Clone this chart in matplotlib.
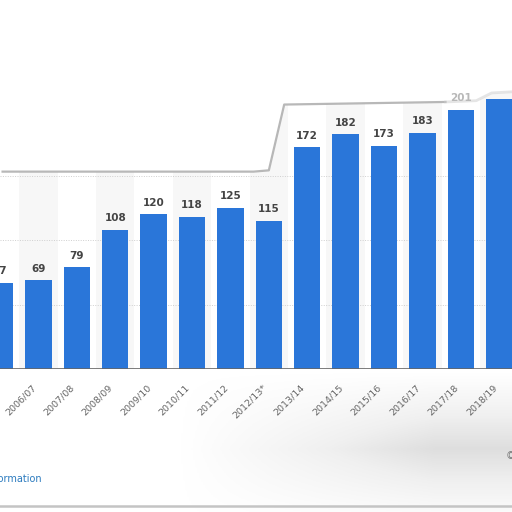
import numpy as np
import matplotlib
matplotlib.use("Agg")
import matplotlib.pyplot as plt
import matplotlib.transforms as mtransforms

seasons = ['2005/06', '2006/07', '2007/08', '2008/09', '2009/10', '2010/11', '2011/12',
           '2012/13*', '2013/14', '2014/15', '2015/16', '2016/17', '2017/18', '2018/19']
values = [67, 69, 79, 108, 120, 118, 125, 115, 172, 182, 173, 183, 201, 209]
# 201 is half hidden under the smudge, 2018/19 label is cut off
shown_labels = [True] * 12 + [False, False]

fig = plt.figure(figsize=(5.12, 5.12), dpi=100)
fig.patch.set_facecolor('white')

# grey smudge below the chart
xx, yy = np.meshgrid(np.linspace(0, 1, 256), np.linspace(0, 1, 128))
img = np.clip((xx - 0.35) / 0.5, 0, 1) * np.clip(1 - np.abs(yy - 0.55) / 0.55, 0, 1)
bg = fig.add_axes([0, 0, 1, 1 - 372 / 512])
bg.imshow(img, cmap='Greys', vmin=0, vmax=4.5, aspect='auto', extent=[0, 1, 0, 1],
          interpolation='bicubic')
bg.plot([0, 1], [0.045, 0.045], color='#c4c4c4', lw=1.8)
bg.set_xlim(0, 1)
bg.set_ylim(0, 1)
bg.axis('off')

# axes cropped on both sides like the screenshot
ax = fig.add_axes([0, 1 - 369 / 512, 1, 369 / 512])
ax.patch.set_alpha(0)
px_per_cat = 38.6
x0 = 1 - 36 / px_per_cat
ax.set_xlim(x0, x0 + 512 / px_per_cat)
ax.set_ylim(0, 369 / 1.29)

x = np.arange(len(seasons))
for i in x:
    if i % 2 == 1:
        ax.axvspan(i - 0.5, i + 0.5, color='#f7f7f7', zorder=0, lw=0)
for g in [50, 100, 150]:
    ax.axhline(g, color='#cfcfcf', lw=0.7, ls=(0, (1, 1.5)), zorder=1)

ax.bar(x, values, width=0.69, color='#2a76d9', zorder=3)
for xi, v, show in zip(x, values, shown_labels):
    if show:
        ax.text(xi, v + 5, str(v), ha='center', va='bottom', fontsize=7.5,
                fontweight='bold', color='#444444', zorder=4)

# white blurred overlay region at the top
ox = [x0, 6.6, 7.0, 7.4, 11.6, 12.4, 12.8, 14]
oy = [153, 153, 154, 205, 207, 208, 214, 216]
ax.fill_between(ox, oy, 400, color='white', zorder=2)
ax.plot(ox[:5], oy[:5], color='#9a9a9a', lw=1.6, alpha=0.7, zorder=2.5)
ax.plot(ox[4:], oy[4:], color='#cccccc', lw=2, alpha=0.5, zorder=2.5)
ax.text(12, 206, '201', ha='center', va='bottom', fontsize=7.5,
        fontweight='bold', color='#b8b8b8', zorder=4)

ax.axhline(0, color='#666666', lw=1.2, zorder=5)
ax.set_xticks(x)
ax.set_xticklabels(seasons, rotation=45, ha='right', rotation_mode='anchor',
                   fontsize=6.8, color='#666666')
ax.tick_params(axis='x', length=0, pad=10)
shift = mtransforms.ScaledTranslation(-7 / 100, 0, fig.dpi_scale_trans)
for lbl in ax.get_xticklabels():
    lbl.set_transform(lbl.get_transform() + shift)
ax.set_yticks([])
for s in ax.spines.values():
    s.set_visible(False)

fig.text(42 / 512, 1 - 479 / 512, 'Additional Information', ha='right', va='center',
         fontsize=7, color='#2c7bbf')
fig.text(506 / 512, 1 - 456 / 512, '© Statista', ha='left', va='center',
         fontsize=7, color='#777777')

fig.savefig('out.png', dpi=100)
